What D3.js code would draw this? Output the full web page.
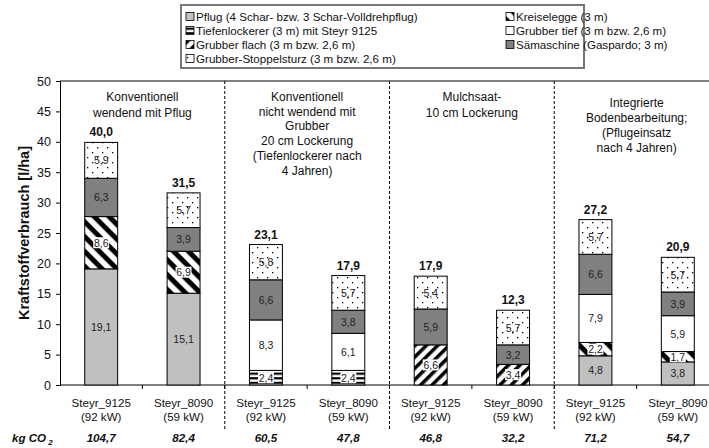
<!DOCTYPE html>
<html>
<head>
<meta charset="utf-8">
<script src="https://cdn.jsdelivr.net/npm/d3@7"></script>
<style>
  body { margin: 0; background: #fff; }
  svg text { font-family: Arial, "Liberation Sans", sans-serif; }
</style>
</head>
<body>
<div id="chart"></div>
<script>
// tractors / bars
const bars = ['b1', 'b2', 'b3', 'b4', 'b5', 'b6', 'b7', 'b8'];
const tractorLine1 = ['Steyr_9125', 'Steyr_8090', 'Steyr_9125', 'Steyr_8090', 'Steyr_9125', 'Steyr_8090', 'Steyr_9125', 'Steyr_8090'];
const tractorLine2 = ['(92 kW)', '(59 kW)', '(92 kW)', '(59 kW)', '(92 kW)', '(59 kW)', '(92 kW)', '(59 kW)'];

// stack order bottom -> top
const ops = ['pflug', 'tief', 'flach', 'kreisel', 'grubtief', 'saem', 'stoppel'];
const opNames = {
  pflug: 'Pflug (4 Schar- bzw. 3 Schar-Volldrehpflug)',
  tief: 'Tiefenlockerer (3 m) mit Steyr 9125',
  flach: 'Grubber flach (3 m bzw. 2,6 m)',
  stoppel: 'Grubber-Stoppelsturz (3 m bzw. 2,6 m)',
  kreisel: 'Kreiselegge (3 m)',
  grubtief: 'Grubber tief (3 m bzw. 2,6 m)',
  saem: 'Sämaschine (Gaspardo; 3 m)'
};
const legendLeft = ['pflug', 'tief', 'flach', 'stoppel'];
const legendRight = ['kreisel', 'grubtief', 'saem'];

// l/ha per operation, one value per bar
const pflug    = [19.1, 15.1, 0,   0,   0,   0,   4.8, 3.8];
const tief     = [0,    0,    2.4, 2.4, 0,   0,   0,   0];
const flach    = [0,    0,    0,   0,   6.6, 3.4, 0,   0];
const kreisel  = [8.6,  6.9,  0,   0,   0,   0,   2.2, 1.7];
const grubtief = [0,    0,    8.3, 6.1, 0,   0,   7.9, 5.9];
const saem     = [6.3,  3.9,  6.6, 3.8, 5.9, 3.2, 6.6, 3.9];
const stoppel  = [5.9,  5.7,  5.8, 5.7, 5.4, 5.7, 5.7, 5.7];

const totals = ['40,0', '31,5', '23,1', '17,9', '17,9', '12,3', '27,2', '20,9'];
const co2 = ['104,7', '82,4', '60,5', '47,8', '46,8', '32,2', '71,2', '54,7'];

const groups = [
  { first: 0, last: 1, lines: ['Konventionell', 'wendend mit Pflug'], top: 97, lh: 16 },
  { first: 2, last: 3, lines: ['Konventionell', 'nicht wendend mit', 'Grubber', '20 cm Lockerung', '(Tiefenlockerer nach', '4 Jahren)'], top: 97, lh: 14.7 },
  { first: 4, last: 5, lines: ['Mulchsaat-', '10 cm Lockerung'], top: 97, lh: 16 },
  { first: 6, last: 7, lines: ['Integrierte', 'Bodenbearbeitung;', '(Pflugeinsatz', 'nach 4 Jahren)'], top: 103, lh: 15 }
];
const yTicks = [0, 5, 10, 15, 20, 25, 30, 35, 40, 45, 50];

const values = { pflug, tief, flach, kreisel, grubtief, saem, stoppel };
const fmt = v => d3.format('.1f')(v).replace('.', ',');
const FONT = 'Arial, "Liberation Sans", sans-serif';
const TXT = 11.6;

const W = 709, H = 448;
const svg = d3.select('#chart').append('svg').attr('width', W).attr('height', H)
  .attr('font-family', FONT);

const x = d3.scaleBand().domain(bars).range([60, 719]).padding(0);
const y = d3.scaleLinear().domain([0, 50]).range([385, 81]);
const barW = x.bandwidth() * 0.4;

// patterns
const defs = svg.append('defs');
function stripes(id, angle, size, black) {
  const p = defs.append('pattern').attr('id', id).attr('patternUnits', 'userSpaceOnUse')
    .attr('width', size).attr('height', size).attr('patternTransform', `rotate(${angle})`);
  p.append('rect').attr('width', size).attr('height', size).attr('fill', '#fff');
  p.append('rect').attr('width', size).attr('height', black).attr('fill', '#000');
}
stripes('pat-kreisel', 45, 10.5, 5);
stripes('pat-flach', -45, 8, 3.5);
stripes('pat-tief', 0, 4.6, 2.2);
const dots = defs.append('pattern').attr('id', 'pat-stoppel').attr('patternUnits', 'userSpaceOnUse')
  .attr('width', 10).attr('height', 10);
dots.append('rect').attr('width', 10).attr('height', 10).attr('fill', '#fff');
dots.append('rect').attr('x', 2).attr('y', 2).attr('width', 1.3).attr('height', 1.3).attr('fill', '#000');
dots.append('rect').attr('x', 7).attr('y', 7).attr('width', 1.3).attr('height', 1.3).attr('fill', '#000');

const fills = {
  pflug: '#c0c0c0', tief: 'url(#pat-tief)', flach: 'url(#pat-flach)', kreisel: 'url(#pat-kreisel)',
  grubtief: '#fff', saem: '#808080', stoppel: 'url(#pat-stoppel)'
};
const boxedLabel = { tief: true, flach: true, kreisel: true };

// legend
svg.append('rect').attr('x', 181).attr('y', 5).attr('width', 403).attr('height', 63)
  .attr('fill', '#fff').attr('stroke', '#777').attr('stroke-width', 2);
function legendCol(keys, x0) {
  keys.forEach((k, i) => {
    const cy = 17 + i * 14;
    svg.append('rect').attr('x', x0).attr('y', cy - 4.5).attr('width', 8).attr('height', 8)
      .attr('fill', fills[k]).attr('stroke', '#000').attr('stroke-width', 0.8);
    svg.append('text').attr('x', x0 + 10).attr('y', cy + 4).attr('font-size', TXT).attr('fill', '#111')
      .text(opNames[k]);
  });
}
legendCol(legendLeft, 186);
legendCol(legendRight, 506);

// axes
svg.append('line').attr('x1', 60).attr('x2', 719).attr('y1', y(50)).attr('y2', y(50)).attr('stroke', '#000');
const yAxis = svg.append('g').attr('transform', 'translate(60,0)')
  .call(d3.axisLeft(y).tickValues(yTicks).tickSize(4).tickPadding(5));
yAxis.attr('font-family', FONT);
yAxis.select('.domain').attr('stroke', '#000');
yAxis.selectAll('text').attr('font-size', 12.5).attr('fill', '#111');

svg.append('line').attr('x1', 60).attr('x2', 719).attr('y1', y(0)).attr('y2', y(0)).attr('stroke', '#000');
bars.forEach(b => {
  const bx = x(b) + x.bandwidth();
  svg.append('line').attr('x1', bx).attr('x2', bx).attr('y1', y(0)).attr('y2', y(0) + 4).attr('stroke', '#000');
});

svg.append('text')
  .attr('transform', `translate(29,${(y(0) + y(50)) / 2}) rotate(-90)`)
  .attr('text-anchor', 'middle').attr('font-size', 14.5).attr('font-weight', 'bold').attr('fill', '#111')
  .text('Kraftstoffverbrauch [l/ha]');

// group separators and titles
groups.forEach((g, gi) => {
  const gx0 = x(bars[g.first]), gx1 = x(bars[g.last]) + x.bandwidth();
  if (gi > 0) {
    svg.append('line').attr('x1', gx0).attr('x2', gx0).attr('y1', y(50)).attr('y2', 430)
      .attr('stroke', '#000').attr('stroke-dasharray', '3,2');
  }
  const t = svg.append('text').attr('text-anchor', 'middle').attr('font-size', 12).attr('fill', '#111');
  g.lines.forEach((l, i) => {
    t.append('tspan').attr('x', (gx0 + gx1) / 2).attr('y', g.top + 4 + i * g.lh).text(l);
  });
});

// stacked bars
bars.forEach((b, i) => {
  let acc = 0;
  const bx = x(b) + (x.bandwidth() - barW) / 2;
  ops.forEach(k => {
    const v = values[k][i];
    if (!v) return;
    const y0 = y(acc), y1 = y(acc + v);
    acc += v;
    svg.append('rect').attr('x', bx).attr('y', y1).attr('width', barW).attr('height', y0 - y1)
      .attr('fill', fills[k]).attr('stroke', '#000').attr('stroke-width', 1);
    const cx = bx + barW / 2, cy = (y0 + y1) / 2;
    if (boxedLabel[k]) {
      svg.append('rect').attr('x', cx - 8).attr('y', cy - 5.5).attr('width', 16).attr('height', 11).attr('fill', '#fff');
    }
    svg.append('text').attr('x', cx).attr('y', cy + 4).attr('text-anchor', 'middle')
      .attr('font-size', 10.5).attr('fill', '#222').text(fmt(v));
  });
  svg.append('text').attr('x', bx + barW / 2).attr('y', y(acc) - 6).attr('text-anchor', 'middle')
    .attr('font-size', 12).attr('font-weight', 'bold').attr('fill', '#111').text(totals[i]);

  const cx = x(b) + x.bandwidth() / 2;
  svg.append('text').attr('x', cx).attr('y', 407).attr('text-anchor', 'middle').attr('font-size', TXT)
    .attr('fill', '#111').text(tractorLine1[i]);
  svg.append('text').attr('x', cx).attr('y', 421).attr('text-anchor', 'middle').attr('font-size', TXT)
    .attr('fill', '#111').text(tractorLine2[i]);
  svg.append('text').attr('x', cx).attr('y', 442).attr('text-anchor', 'middle').attr('font-size', TXT)
    .attr('font-weight', 'bold').attr('font-style', 'italic').attr('fill', '#111').text(co2[i]);
});

const kg = svg.append('text').attr('x', 12).attr('y', 442).attr('font-size', TXT)
  .attr('font-weight', 'bold').attr('font-style', 'italic').attr('fill', '#111');
kg.append('tspan').text('kg CO');
kg.append('tspan').attr('dx', 2).attr('dy', 3).attr('font-size', 8).text('2');
</script>
</body>
</html>
